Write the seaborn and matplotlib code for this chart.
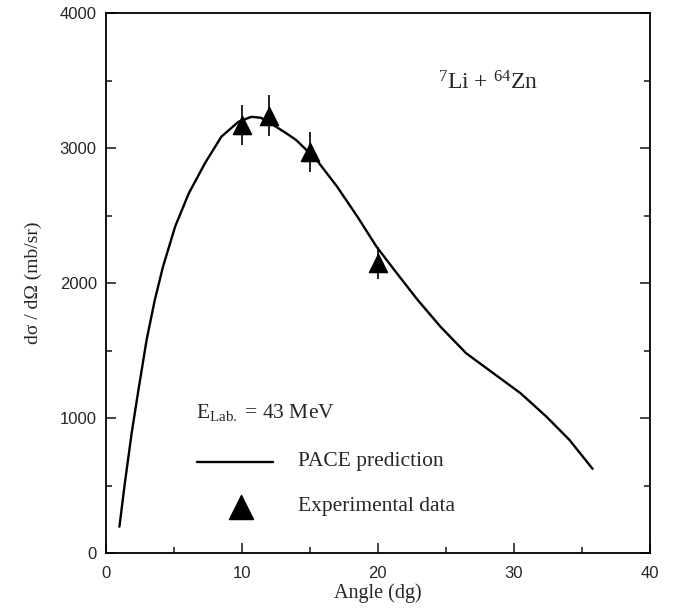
import matplotlib
matplotlib.use("Agg")
import matplotlib.pyplot as plt
import seaborn as sns
import pandas as pd
from matplotlib.ticker import MultipleLocator

# PACE prediction curve
curve_angle = [1.0, 1.4, 1.9, 2.4, 3.0, 3.6, 4.2, 5.1, 6.1, 7.3, 8.5, 9.75, 10.7,
               11.4, 12.3, 13.2, 14.0, 15.5, 17.0, 18.5, 19.9, 21.4, 22.9, 24.6,
               26.5, 28.5, 30.5, 32.4, 34.1, 35.8]
curve_xs = [197, 520, 890, 1210, 1580, 1875, 2120, 2420, 2665, 2890, 3085, 3195, 3232,
            3225, 3172, 3115, 3060, 2913, 2716, 2493, 2271, 2074, 1880, 1679,
            1481, 1333, 1185, 1012, 839, 625]

# Experimental data
exp_angle = [10, 12, 15, 20]
exp_xs = [3170, 3240, 2970, 2150]
exp_err = [150, 150, 150, 120]

sns.set_style("ticks")
plt.rcParams['font.family'] = ['Liberation Serif', 'DejaVu Serif']
plt.rcParams['mathtext.fontset'] = 'custom'
plt.rcParams['mathtext.rm'] = 'Liberation Serif'
plt.rcParams['mathtext.it'] = 'Liberation Serif:italic'

fig = plt.figure(figsize=(6.74, 6.09), dpi=100)
ax = fig.add_axes([0.157, 0.0915, 0.807, 0.887])

curve_df = pd.DataFrame({"angle": curve_angle, "xs": curve_xs})
exp_df = pd.DataFrame({"angle": exp_angle, "xs": exp_xs, "err": exp_err})

sns.lineplot(data=curve_df, x="angle", y="xs", color="black", lw=1.7, ax=ax,
             sort=False, estimator=None)
ax.errorbar(exp_df["angle"], exp_df["xs"], yerr=exp_df["err"], fmt="none",
            ecolor="black", elinewidth=1.2, capsize=0)
sns.scatterplot(data=exp_df, x="angle", y="xs", marker="^", s=170, color="black",
                edgecolor="black", ax=ax, zorder=5)

ax.set_xlim(0, 40)
ax.set_ylim(0, 4000)
ax.xaxis.set_major_locator(MultipleLocator(10))
ax.xaxis.set_minor_locator(MultipleLocator(5))
ax.yaxis.set_major_locator(MultipleLocator(1000))
ax.yaxis.set_minor_locator(MultipleLocator(500))
ax.tick_params(which="both", direction="in", right=True, top=False, width=1.2)
ax.tick_params(which="major", length=7)
ax.tick_params(which="minor", length=4)
ax.tick_params(axis="x", which="major", pad=9)
ax.tick_params(axis="y", which="major", pad=6.5)
for lab in ax.get_xticklabels() + ax.get_yticklabels():
    lab.set_family("Liberation Sans")
    lab.set_fontsize(12)
for sp in ax.spines.values():
    sp.set_visible(True)
    sp.set_linewidth(1.3)
    sp.set_color("black")

ax.set_xlabel("Angle (dg)", fontsize=14.5, labelpad=2)
ax.set_ylabel("dσ / dΩ (mb/sr)", fontsize=14, labelpad=13)

ax.text(24.4, 3480, r"$^{7}$Li + $^{64}$Zn", fontsize=17, va="center")
ax.text(6.6, 1045, r"E$_{\mathrm{Lab.}}$ = 43 MeV", fontsize=15.5, va="center")
ax.plot([6.7, 12.3], [676, 676], color="black", lw=1.7)
ax.text(14.1, 676, "PACE prediction", fontsize=15.5, va="center")
ax.scatter([9.95], [345], marker="^", s=300, color="black")
ax.text(14.1, 345, "Experimental data", fontsize=15.5, va="center")

fig.savefig("out.png", dpi=100)
